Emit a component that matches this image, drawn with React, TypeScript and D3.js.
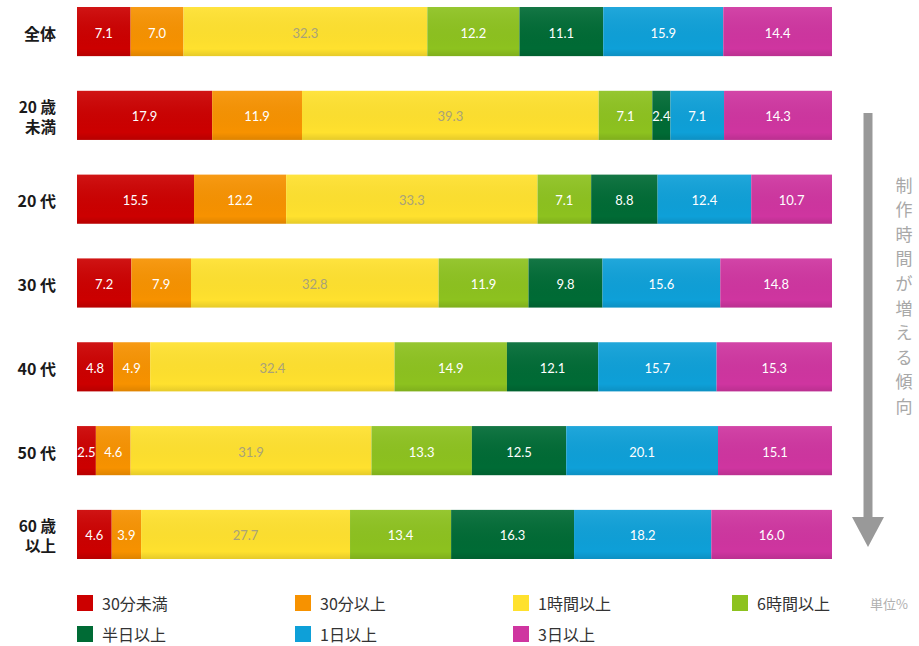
import React from "react";
import * as d3 from "d3";

const categories = ["全体", "20 歳\n未満", "20 代", "30 代", "40 代", "50 代", "60 歳\n以上"];
const seriesNames = ["30分未満", "30分以上", "1時間以上", "6時間以上", "半日以上", "1日以上", "3日以上"];
const seriesColors = ["#cc0000", "#f79200", "#ffe12e", "#8dc21f", "#006b35", "#0ea0d8", "#cf35a0"];
const labelColors = ["#ffffff", "#ffffff", "#a9a27a", "#ffffff", "#ffffff", "#ffffff", "#ffffff"];

const v30min = [7.1, 17.9, 15.5, 7.2, 4.8, 2.5, 4.6];
const v30plus = [7.0, 11.9, 12.2, 7.9, 4.9, 4.6, 3.9];
const v1h = [32.3, 39.3, 33.3, 32.8, 32.4, 31.9, 27.7];
const v6h = [12.2, 7.1, 7.1, 11.9, 14.9, 13.3, 13.4];
const vHalf = [11.1, 2.4, 8.8, 9.8, 12.1, 12.5, 16.3];
const v1d = [15.9, 7.1, 12.4, 15.6, 15.7, 20.1, 18.2];
const v3d = [14.4, 14.3, 10.7, 14.8, 15.3, 15.1, 16.0];
const seriesValues = [v30min, v30plus, v1h, v6h, vHalf, v1d, v3d];

const arrowText = "制作時間が増える傾向";
const unitText = "単位%";

const W = 919;
const H = 646;

export default function App() {
  const x = d3.scaleLinear().domain([0, 100]).range([77, 832]);
  const y = d3.scaleBand<string>().domain(categories).range([7, 559]).paddingInner(0.414).paddingOuter(0);
  const bw = y.bandwidth();

  const rows = categories.map((c, i) => {
    const vals = seriesValues.map((s) => s[i]);
    const total = d3.sum(vals);
    let acc = 0;
    const segs = vals.map((v, k) => {
      const x0 = acc;
      acc += v;
      return { k, v, x0: (x0 / total) * 100, x1: (acc / total) * 100 };
    });
    return { c, segs };
  });

  const legendCols = [77, 295, 513, 732];
  const legendRows = [603, 634];

  const cjk = "'Noto Sans CJK JP', 'Noto Sans', sans-serif";
  const num = "Lato, 'Open Sans', sans-serif";

  return (
    <svg width={W} height={H} style={{ display: "block", position: "absolute", left: 0, top: 0 }}>
      <defs>
        <linearGradient id="shade" x1="0" y1="0" x2="0" y2="1">
          <stop offset="0" stopColor="#ffffff" stopOpacity={0.08} />
          <stop offset="0.85" stopColor="#000000" stopOpacity={0.0} />
          <stop offset="1" stopColor="#000000" stopOpacity={0.1} />
        </linearGradient>
      </defs>
      <rect width={W} height={H} fill="#ffffff" />
      {rows.map((r) => {
        const y0 = y(r.c) as number;
        const lines = r.c.split("\n");
        const cy = y0 + bw / 2;
        return (
          <g key={r.c}>
            {lines.length === 1 ? (
              <text x={56} y={cy + 1} textAnchor="end" dominantBaseline="central" fontFamily={cjk} fontWeight={700} fontSize={16} fill="#1a1a1a">
                {lines[0]}
              </text>
            ) : (
              <text x={56} y={cy - 9} textAnchor="end" fontFamily={cjk} fontWeight={700} fontSize={15.5} fill="#1a1a1a" dominantBaseline="central">
                {lines.map((ln, j) => (
                  <tspan key={j} x={56} dy={j === 0 ? 0 : 20}>
                    {ln}
                  </tspan>
                ))}
              </text>
            )}
            {r.segs.map((s) => (
              <rect key={s.k} x={x(s.x0)} y={y0} width={x(s.x1) - x(s.x0)} height={bw} fill={seriesColors[s.k]} />
            ))}
            <rect x={x(0)} y={y0} width={x(100) - x(0)} height={bw} fill="url(#shade)" />
            {r.segs.map((s) => (
              <text
                key={"t" + s.k}
                x={(x(s.x0) + x(s.x1)) / 2}
                y={cy + 1}
                textAnchor="middle"
                dominantBaseline="central"
                fontFamily={num}
                fontSize={13}
                fill={labelColors[s.k]}
              >
                {s.v.toFixed(1)}
              </text>
            ))}
          </g>
        );
      })}

      {/* arrow */}
      <rect x={863.5} y={113} width={9} height={406} fill="#999999" />
      <path d="M852,517 L884,517 L868,547 Z" fill="#999999" />
      {arrowText.split("").map((ch, i) => (
        <text key={i} x={904} y={184 + i * 24.6} textAnchor="middle" dominantBaseline="central" fontFamily={cjk} fontSize={17} fill="#a8a8a8">
          {ch}
        </text>
      ))}

      {/* legend */}
      {seriesNames.map((n, i) => {
        const col = i < 4 ? i : i - 4;
        const row = i < 4 ? 0 : 1;
        const lx = legendCols[col];
        const ly = legendRows[row];
        return (
          <g key={n}>
            <rect x={lx} y={ly - 8} width={16} height={16} fill={seriesColors[i]} />
            <text x={lx + 25} y={ly} dominantBaseline="central" fontFamily={cjk} fontSize={16} fill="#333333">
              {n}
            </text>
          </g>
        );
      })}
      <text x={870} y={603} dominantBaseline="central" fontFamily={cjk} fontSize={13} fill="#b0b0b0">
        {unitText}
      </text>
    </svg>
  );
}
